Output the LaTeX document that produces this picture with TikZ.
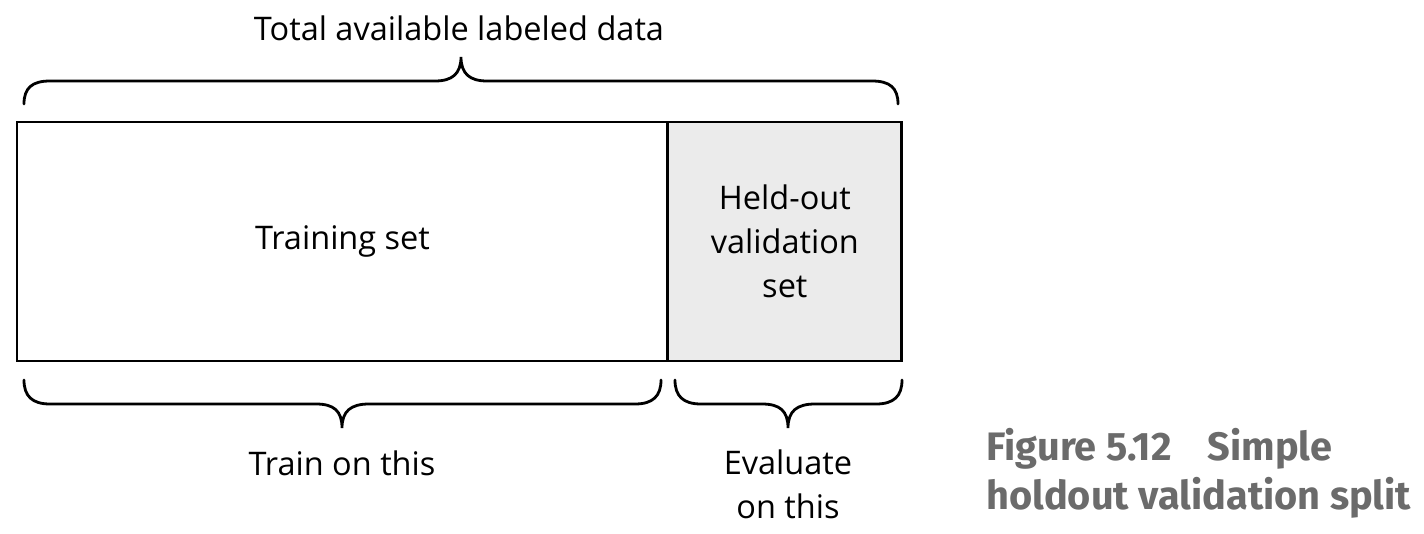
\documentclass[tikz,border=0pt]{standalone}
\usepackage{fontspec}
\setmainfont{Open Sans}
\newfontfamily\capfont{Fira Sans}
\usetikzlibrary{positioning}

\begin{document}
\begin{tikzpicture}[x=0.02cm, y=-0.02cm, line width=1.6pt,
        every node/.style = {align=center, font=\fontsize{18.5}{25}\selectfont},
        setbox/.style = {draw, rectangle, inner sep=0pt, outer sep=0pt,
            minimum height=4.78cm, anchor=north west},
        brace/.style = {line width=1.6pt, line cap=round}]
        \useasboundingbox (0,0) rectangle (1424,534);
        % the two parts of the data
        \node [setbox, minimum width=13.02cm] (train) at (17,122) {Training set};
        \node [setbox, minimum width=4.68cm, fill=black!8] (valid) at (train.north east) {Held-out\\validation\\set};
        % braces
        \draw [brace] (24,104) .. controls (24,88) and (32,81) .. (50,81) -- (435,81)
            .. controls (452,81) and (461,74) .. (461,57)
            .. controls (461,74) and (470,81) .. (487,81) -- (872,81)
            .. controls (890,81) and (898,88) .. (898,104);
        \draw [brace] (24,380) .. controls (24,396) and (32,404) .. (50,404) -- (316,404)
            .. controls (334,404) and (342,411) .. (342,428)
            .. controls (342,411) and (351,404) .. (369,404) -- (635,404)
            .. controls (653,404) and (661,396) .. (661,380);
        \draw [brace] (675,380) .. controls (675,396) and (683,404) .. (701,404) -- (762,404)
            .. controls (780,404) and (788,411) .. (788,428)
            .. controls (788,411) and (797,404) .. (815,404) -- (876,404)
            .. controls (894,404) and (902,396) .. (902,380);
        % labels
        \node (total) at (459,28) {Total available labeled data};
        \node (trainon) at (342,463) {Train on this};
        \node (evalon) at (788,484) {Evaluate\\on this};
        \node [anchor=west, align=left, inner sep=0pt, text=black!58,
            font=\capfont\bfseries\fontsize{22.6}{28}\selectfont] (caption) at (985,473)
            {Figure 5.12\hspace{0.9em}Simple\\holdout validation split};
\end{tikzpicture}
\end{document}
